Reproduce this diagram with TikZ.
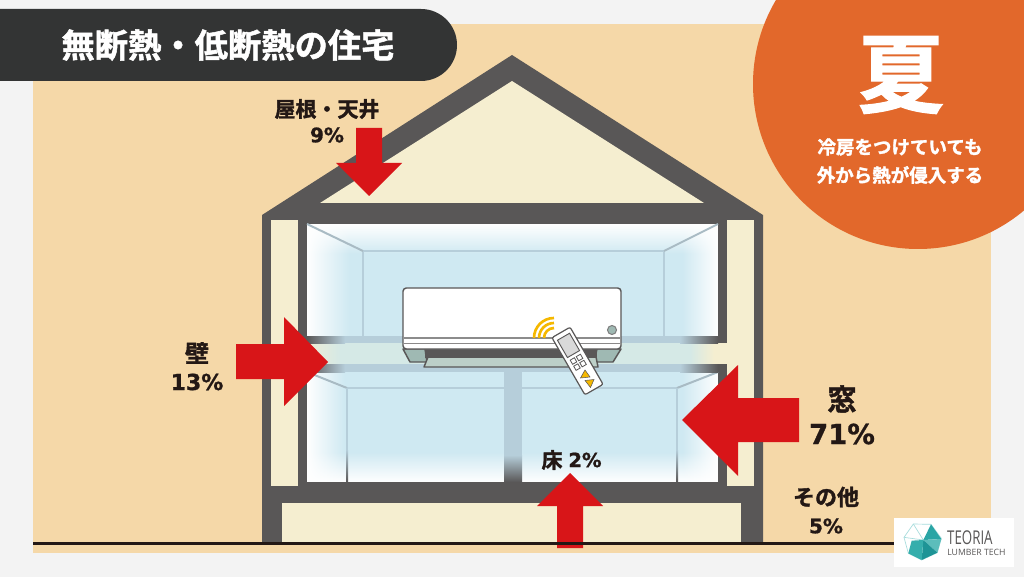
\documentclass[tikz,border=0pt]{standalone}
\usepackage{fontspec}
\usetikzlibrary{fadings}
\setmainfont{DejaVu Sans}[BoldFont={DejaVu Sans Bold},BoldFeatures={FakeBold=1}]
\newfontfamily\jp{Noto Sans CJK JP}[BoldFont={Noto Sans CJK JP Bold}]
\newfontfamily\ja{Noto Sans CJK JP}[BoldFont={Noto Sans CJK JP Bold},BoldFeatures={FakeBold=1.5}]
\newfontfamily\logofont{Open Sans}
\newcommand{\pxfont}[1]{\pgfmathsetmacro{\ptv}{#1*0.75}\fontsize{\ptv pt}{\ptv pt}\selectfont}
\definecolor{bgg}{HTML}{F3F3F3}
\definecolor{tan}{HTML}{F5D8A8}
\definecolor{wall}{HTML}{595757}
\definecolor{cream}{HTML}{F5EED0}
\definecolor{sky}{HTML}{CFE9F2}
\definecolor{beam}{HTML}{B6CEDA}
\definecolor{band}{HTML}{D5E9E6}
\definecolor{lineC}{HTML}{A9BBC4}
\definecolor{redA}{HTML}{D81518}
\definecolor{ink}{HTML}{231815}
\definecolor{pill}{HTML}{333434}
\definecolor{orangeC}{HTML}{E2682B}
\definecolor{yel}{HTML}{F5B800}
\definecolor{acg}{HTML}{9FB9B3}
\definecolor{acf}{HTML}{BCCFC8}
\definecolor{teal1}{HTML}{2AA5A5}
\definecolor{teal2}{HTML}{5CBDBB}
\definecolor{teal3}{HTML}{1E9496}
\definecolor{teal4}{HTML}{35AEAC}
\definecolor{tealL}{HTML}{A6DCDC}
\tikzset{
  lbl/.style={text=ink,inner sep=0pt,align=center},
  wht/.style={text=white,inner sep=0pt,align=center},
  heat/.style={fill=redA,draw=none},
  persp/.style={draw=lineC,line width=1.5pt},
  horiz/.style={draw=beam,line width=1.5pt},
  acline/.style={draw=wall,line width=1.1pt,line join=round},
}
\begin{document}
\begin{tikzpicture}[x=0.75pt,y=-0.75pt]
\useasboundingbox (0,0) rectangle (1024,577);
\fill[bgg] (0,0) rectangle (1024,577);
\fill[tan] (33,24) rectangle (991,553);
% house shell
\fill[wall] (512,55) -- (763,215) -- (763,544) -- (262,544) -- (262,215) -- cycle;
\fill[cream] (512,81) -- (704,203) -- (320,203) -- cycle;
\fill[cream] (271,220) rectangle (298,486);
\fill[cream] (727,220) rectangle (754,486);
\fill[cream] (282,503) rectangle (741,542);
% upper room
\fill[sky] (307,224) rectangle (718,336);
\fill[white,path fading=south] (307,224) rectangle (718,254);
\fill[white,path fading=east] (307,224) rectangle (350,336);
\fill[white,path fading=west] (682,224) rectangle (718,336);
\draw[horiz] (363,251) -- (664,251);
\draw[horiz] (363,251) -- (363,336);
\draw[horiz] (664,251) -- (664,336);
\draw[persp] (307,224) -- (363,251);
\draw[persp] (718,224) -- (664,251);
% lower room
\fill[sky] (307,372) rectangle (718,482);
\fill[white,path fading=north] (307,452) rectangle (718,482);
\fill[white,path fading=east] (307,372) rectangle (345,482);
\fill[white,path fading=west] (682,372) rectangle (718,482);
\draw[horiz] (347,388) -- (677,388);
\draw[persp] (307,372) -- (347,388);
\draw[persp] (718,372) -- (677,388);
\draw[horiz] (347,388) -- (347,450);
\draw[horiz] (677,388) -- (677,450);
\shade[top color=beam,bottom color=wall] (346,450) rectangle (348,482);
\shade[top color=beam,bottom color=wall] (676,450) rectangle (678,482);
% partition
\fill[beam] (504,372) rectangle (522,455);
\shade[top color=beam,bottom color=wall] (504,455) rectangle (522,482);
% mid floor
\fill[band] (340,343) rectangle (690,364);
\shade[left color=cream,right color=band] (298,343) rectangle (340,364);
\shade[left color=band,right color=cream] (690,343) rectangle (714,364);
\fill[cream] (714,343) rectangle (727,364);
\fill[beam] (345,336) rectangle (680,343);
\fill[beam] (345,364) rectangle (680,372);
\shade[left color=wall,right color=beam] (307,336) rectangle (345,343);
\shade[left color=wall,right color=beam] (307,364) rectangle (345,372);
\shade[left color=beam,right color=wall] (680,336) rectangle (718,343);
\shade[left color=beam,right color=wall] (680,364) rectangle (718,372);
\fill[wall] (718,336) rectangle (727,343);
\fill[wall] (718,364) rectangle (727,372);
% air conditioner
\fill[acg,acline] (403,349) -- (410,362) -- (427,362) -- (425,349) -- cycle;
\fill[acg,acline] (621,349) -- (613,362) -- (594,362) -- (597,349) -- cycle;
\fill[acf,acline] (428,357) -- (424,367) -- (598,367) -- (596,357) -- cycle;
\fill[wall] (425,349) rectangle (597,358);
\filldraw[fill=white,acline,rounded corners=2.5pt] (403,349) -- (403,288) -- (621,288) -- (621,349) -- cycle;
\draw[draw=gray!90,line width=1.5pt] (404,338) -- (620,338);
\fill[wall!70] (404,343.2) rectangle (620,344);
\filldraw[fill=acg,draw=gray,line width=0.8pt] (612,330) circle (4.5);
\foreach \r in {20,15,10}{
  \draw[yel,line width=2pt] (554,338) ++(180:\r) arc[start angle=180,end angle=90,x radius=\r,y radius=-\r];
}
% remote
\begin{scope}[shift={(577.5,361)},rotate=30]
  \filldraw[fill=white,draw=wall,line width=0.9pt,rounded corners=1.5pt] (-10.5,-33) rectangle (10.5,33);
  \filldraw[fill=black!15,draw=wall,line width=0.7pt] (-7,-28) rectangle (7,-8);
  \foreach \bx/\by in {-3.5/-2,3.5/-2,-3.5/5,3.5/5}{
    \draw[draw=wall,line width=0.6pt] (\bx-2.4,\by-2.4) rectangle (\bx+2.4,\by+2.4);
  }
\end{scope}
\filldraw[fill=yel,draw=wall,line width=0.4pt] (585,370) -- (580.5,378) -- (590,377) -- cycle;
\filldraw[fill=yel,draw=wall,line width=0.4pt] (585,380.5) -- (594,379.5) -- (590.5,387.5) -- cycle;
% heat arrows
\fill[heat] (356,128) -- (382,128) -- (382,163) -- (402,163) -- (369,196) -- (336,163) -- (356,163) -- cycle;
\fill[heat] (236,344) -- (284,344) -- (284,317) -- (328,362) -- (284,406) -- (284,379) -- (236,379) -- cycle;
\fill[heat] (799,398) -- (738,398) -- (738,365) -- (682,420) -- (738,476) -- (738,442) -- (799,442) -- cycle;
\fill[heat] (557,548) -- (557,506) -- (537,506) -- (570,473) -- (603,506) -- (583,506) -- (583,548) -- cycle;
% ground
\fill[ink] (33,542) rectangle (895,545);
% title pill
\fill[pill,rounded corners=27pt] (-60,9) rectangle (457,81);
\node[wht,font=\ja\bfseries\pxfont{33.3}] (title) at (228,45) {無断熱・低断熱の住宅};
% season circle
\fill[orangeC] (918,84) circle (165);
\node[wht,font=\ja\bfseries\pxfont{86}] (summer) at (901,75) {夏};
\node[wht,font=\ja\bfseries\pxfont{18.5}] (sub1) at (900,147) {冷房をつけていても};
\node[wht,font=\ja\bfseries\pxfont{18.5}] (sub2) at (900,175) {外から熱が侵入する};
% labels
\node[lbl,font=\ja\bfseries\pxfont{21}] (roof) at (327,109) {屋根・天井};
\node[lbl,font=\bfseries\pxfont{20}] (roofp) at (327,135) {9\%};
\node[lbl,font=\ja\bfseries\pxfont{24}] (wallL) at (197,353) {壁};
\node[lbl,font=\bfseries\pxfont{22}] (wallP) at (197,382) {13\%};
\node[lbl,font=\ja\bfseries\pxfont{29}] (win) at (842,399) {窓};
\node[lbl,font=\bfseries\pxfont{27.5}] (winP) at (842,434) {71\%};
\node[lbl,font=\ja\bfseries\pxfont{21}] (floorL) at (552,460) {床};
\node[lbl,font=\bfseries\pxfont{19.5}] (floorP) at (585,460) {2\%};
\node[lbl,font=\ja\bfseries\pxfont{22}] (other) at (826,497) {その他};
\node[lbl,font=\bfseries\pxfont{20}] (otherP) at (826,526) {5\%};
% logo
\fill[white] (894,518) rectangle (1014,567);
\begin{scope}[shift={(780,470)},scale=1/3]
  \draw[tealL,line width=0.5pt,line join=round] (400,162) -- (453,163) -- (484,205) -- (472,248) -- (425,270) -- (385,250) -- (372,202) -- cycle;
  \draw[tealL,line width=0.5pt] (372,202) -- (430,210) -- (400,162);
  \fill[teal1] (453,163) -- (484,207) -- (430,210) -- cycle;
  \fill[teal2] (430,210) -- (484,207) -- (472,248) -- cycle;
  \fill[teal3] (430,210) -- (472,248) -- (425,270) -- cycle;
  \fill[teal4] (385,250) -- (395,212) -- (430,210) -- (425,270) -- cycle;
\end{scope}
\node[text=wall,inner sep=0pt,font=\logofont\pxfont{19},xscale=0.7,anchor=west] (teoria) at (947,538) {TEORIA};
\node[text=wall,inner sep=0pt,font=\logofont\pxfont{8.7},anchor=west] (lumber) at (947,552) {LUMBER TECH};
\end{tikzpicture}
\end{document}
